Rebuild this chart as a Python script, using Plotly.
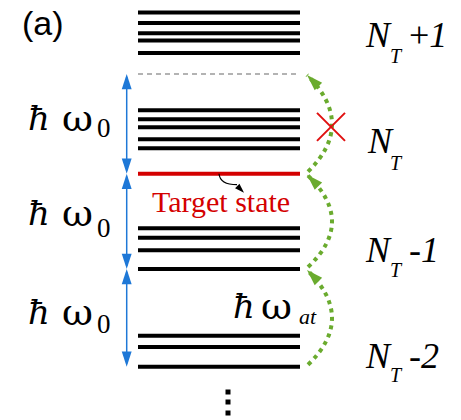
import plotly.graph_objects as go

# ----------------------------- data -----------------------------
# energy (vertical position, arbitrary units; larger = higher) of every level
levels_nt_plus1 = [407.5, 397.0, 386.7, 379.5, 367.0]   # N_T+1 manifold
levels_nt = [309.7, 300.7, 292.7, 280.7, 271.7]          # N_T manifold
target_state = 246.3                                      # target level (red)
levels_nt_minus1 = [191.7, 182.3, 169.7, 151.0]          # N_T-1 manifold
levels_nt_minus2 = [84.3, 73.0, 53.3]                    # N_T-2 manifold
virtual_level = 346.0                                     # one hbar*w0 above target (dashed)
continuation_dots = [28.0, 18.0, 7.0]                     # vertical ellipsis

manifold_suffix = ["+<i>1</i>", "", "<i>-1</i>", "<i>-2</i>"]
transition_allowed = [True, True, False]

# ----------------------------- layout constants -----------------------------
W, H = 461, 420
X0, X1 = 138, 300           # level line extent
XB = 126.7                  # blue double arrows
BLACK, RED = "#000000", "#D40000"
BLUE, GREEN, GRAY = "#1E78D7", "#6AAB2E", "#9A9A9A"
SERIF = "Liberation Serif, Times New Roman, serif"
MATH = "DejaVu Serif, serif"

rungs = [levels_nt_minus2[-1], levels_nt_minus1[-1], target_state, virtual_level]

fig = go.Figure()

# black manifold levels
bx, by = [], []
for grp in (levels_nt_plus1, levels_nt, levels_nt_minus1, levels_nt_minus2):
    for e in grp:
        bx += [X0, X1, None]
        by += [e, e, None]
fig.add_trace(go.Scatter(x=bx, y=by, mode="lines", line=dict(color=BLACK, width=4)))

# target level
fig.add_trace(go.Scatter(x=[X0, X1], y=[target_state, target_state], mode="lines",
                         line=dict(color=RED, width=4)))
# virtual (dashed) level
fig.add_trace(go.Scatter(x=[X0, X1 - 2], y=[virtual_level, virtual_level], mode="lines",
                         line=dict(color=GRAY, width=1.5, dash="5px,4px")))

# blue double arrows between rungs
for lo, hi in zip(rungs[:-1], rungs[1:]):
    fig.add_trace(go.Scatter(x=[XB, XB], y=[lo + 3, hi - 3], mode="lines",
                             line=dict(color=BLUE, width=1.5)))
    fig.add_trace(go.Scatter(x=[XB, XB], y=[hi, lo], mode="markers",
                             marker=dict(symbol="arrow", size=16, angle=[0, 180],
                                         color=BLUE, line=dict(width=0))))

# green dotted transitions (quadratic curves bulging to the right)
for (lo, hi), ok in zip(zip(rungs[:-1], rungs[1:]), transition_allowed):
    mid = (lo + hi) / 2
    fig.add_shape(type="path", xref="x", yref="y", layer="below",
                  path=f"M 308,{lo + 2} Q 356.5,{mid} 307,{hi - 1}",
                  line=dict(color=GREEN, width=4, dash="4px,4.5px"))
    fig.add_trace(go.Scatter(x=[307], y=[hi - 1], mode="markers",
                             marker=dict(symbol="arrow", size=17, angle=-45,
                                         color=GREEN, line=dict(width=0))))
    if not ok:
        fig.add_trace(go.Scatter(x=[331], y=[mid - 3], mode="markers",
                                 marker=dict(symbol="x-thin", size=28,
                                             line=dict(color="#E01010", width=2))))

# small pointer from target level to its label
fig.add_shape(type="path", xref="x", yref="y",
              path=f"M 219,{target_state} Q 220,{target_state - 11} 237,{target_state - 11}",
              line=dict(color=BLACK, width=1.2))
fig.add_trace(go.Scatter(x=[244], y=[target_state - 19], mode="markers",
                         marker=dict(symbol="arrow", size=10, angle=135,
                                     color=BLACK, line=dict(width=0))))

# vertical ellipsis
fig.add_trace(go.Scatter(x=[228] * len(continuation_dots), y=continuation_dots, mode="markers",
                         marker=dict(symbol="square", size=5, color=BLACK)))


def txt(x, y, s, size, color=BLACK, family=SERIF, xanchor="left"):
    fig.add_annotation(x=x, y=y, xref="x", yref="y", text=s, showarrow=False,
                       xanchor=xanchor, yanchor="middle",
                       font=dict(size=size, color=color, family=family))


# (a)
txt(43, 396.9, "(a)", 34, family="Liberation Sans, Arial, sans-serif", xanchor="center")

# hbar omega_0 labels
for yh, y0 in zip([302.2, 206.7, 108.2], [292.2, 192.2, 96.2]):
    txt(38.5, yh, "<i>ħ</i>", 34, family=MATH, xanchor="center")
    txt(77.5, yh, "ω", 38, family=MATH, xanchor="center")
    txt(95, y0, "0", 27)

# hbar omega_at
txt(243.5, 114.2, "<i>ħ</i>", 34, family=MATH, xanchor="center")
txt(276.5, 114.2, "ω", 38, family=MATH, xanchor="center")
txt(297, 103.5, "<i>at</i>", 22)

# Target state
txt(221, 218.2, "Target state", 30, color=RED, xanchor="center")

# manifold labels
n_centers = [385.2, 279.2, 170.2, 64.2]
t_centers = [363.8, 256.8, 149.8, 44.8]
n_left = [363, 365, 363, 363]
for yn, yt, xl, suf in zip(n_centers, t_centers, n_left, manifold_suffix):
    txt(xl, yn, "<i>N</i>", 36)
    txt(388, yt, "<i>T</i>", 20)
    if suf:
        txt(407, yn, suf, 36)

fig.update_layout(width=W, height=H, margin=dict(l=0, r=0, t=0, b=0),
                  paper_bgcolor="white", plot_bgcolor="white", showlegend=False,
                  xaxis=dict(range=[0, W], visible=False, fixedrange=True),
                  yaxis=dict(range=[0, H], visible=False, fixedrange=True))

# remove the default 8px page margin so the figure fills the window exactly
fig.write_html("out.html", config={"displayModeBar": False},
               post_script="document.body.style.margin='0px';")
